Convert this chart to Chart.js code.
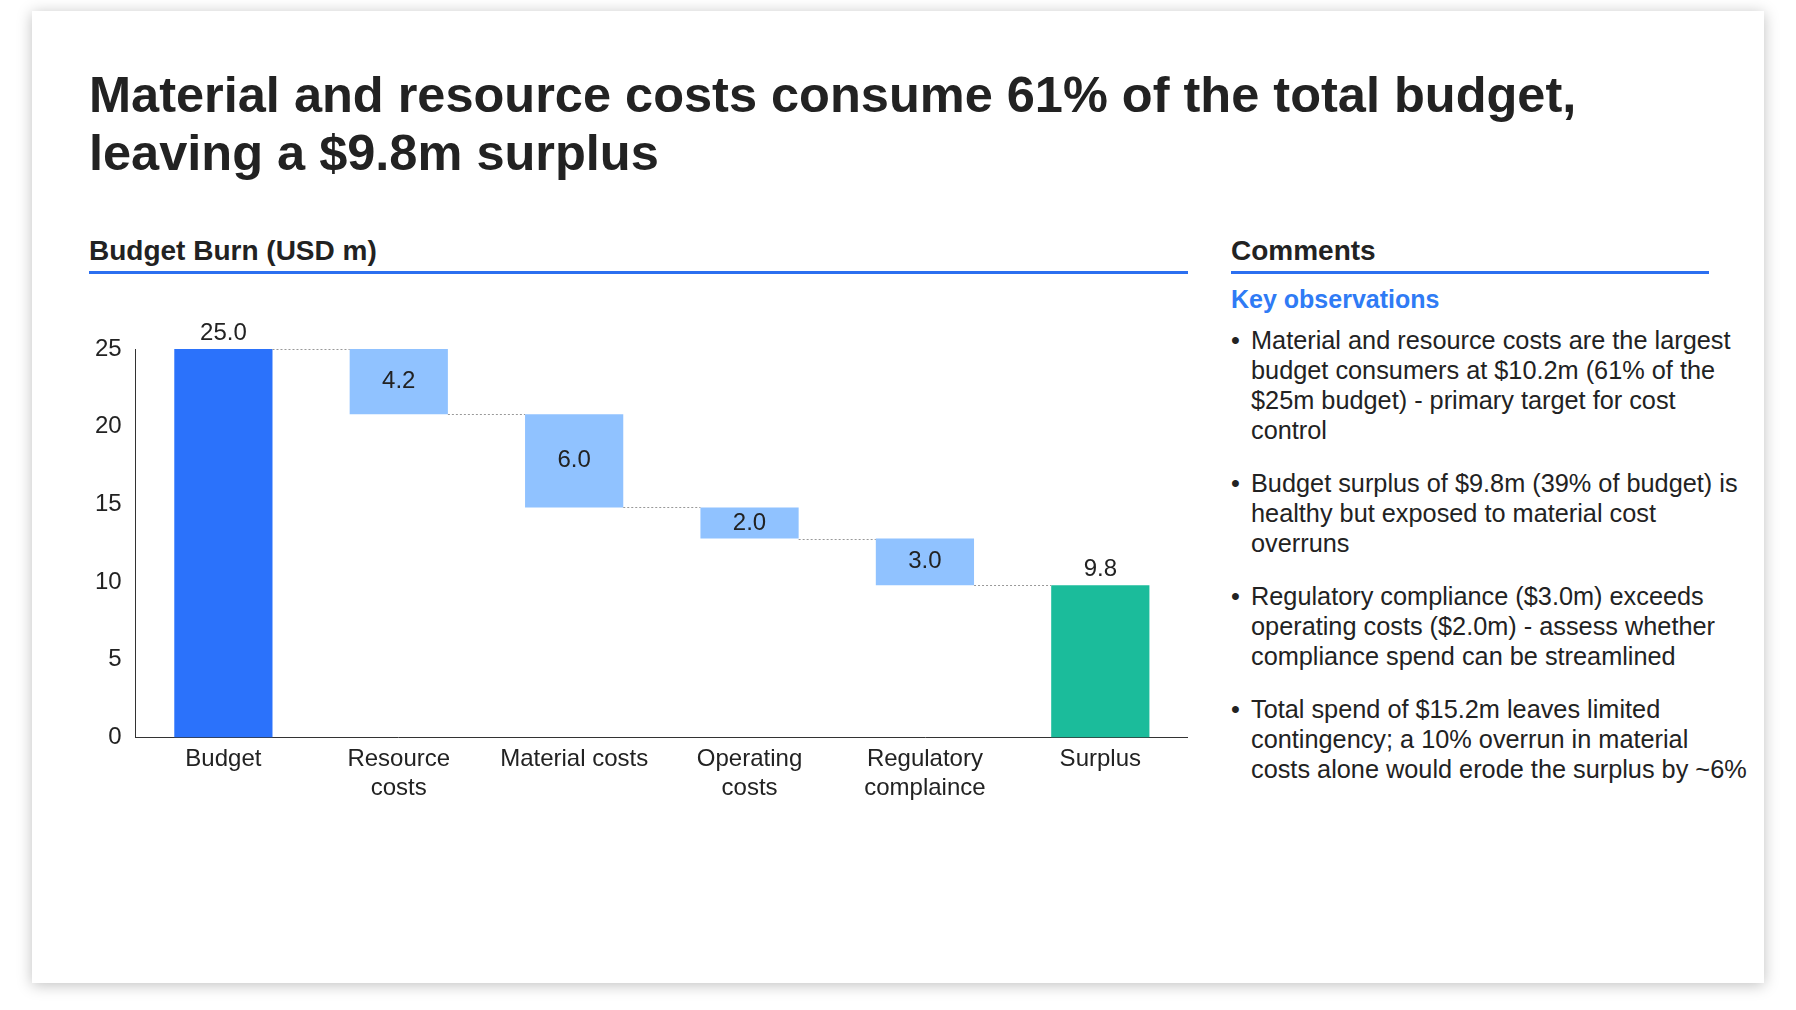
<!DOCTYPE html>
<html><head><meta charset="utf-8">
<script src="https://cdn.jsdelivr.net/npm/chart.js@4"></script>
<style>
body{margin:0;background:#fff;font-family:"Liberation Sans",Arial,sans-serif;color:#222;}
#card{position:absolute;left:32px;top:11px;width:1732px;height:972px;background:#fff;box-shadow:0 2px 14px rgba(0,0,0,0.25);}
h1{position:absolute;left:57px;top:55px;margin:0;font-size:50.5px;line-height:58px;font-weight:bold;color:#222;}
.hd{position:absolute;font-size:28px;font-weight:bold;color:#222;border-bottom:3px solid #2b6ff0;padding-bottom:4px;}
#obs{position:absolute;left:1199px;top:274px;font-size:25px;font-weight:bold;color:#2f7bf5;}
ul{position:absolute;left:1199px;top:314px;width:520px;margin:0;padding:0;list-style:none;font-size:25.3px;line-height:30px;color:#222;}
li{padding-left:20px;position:relative;margin-bottom:23px;}
li:before{content:"•";position:absolute;left:0;}
#wrap{position:absolute;left:57px;top:288px;width:1099px;height:512px;}
</style></head><body>
<div id="card">
<h1>Material and resource costs consume 61% of the total budget,<br>leaving a $9.8m surplus</h1>
<div class="hd" style="left:57px;top:224px;width:1099px;">Budget Burn (USD m)</div>
<div class="hd" style="left:1199px;top:224px;width:478px;">Comments</div>
<div id="obs">Key observations</div>
<ul>
<li>Material and resource costs are the largest budget consumers at $10.2m (61% of the $25m budget) - primary target for cost control</li>
<li>Budget surplus of $9.8m (39% of budget) is healthy but exposed to material cost overruns</li>
<li>Regulatory compliance ($3.0m) exceeds operating costs ($2.0m) - assess whether compliance spend can be streamlined</li>
<li>Total spend of $15.2m leaves limited contingency; a 10% overrun in material costs alone would erode the surplus by ~6%</li>
</ul>
<div id="wrap"><canvas id="c"></canvas></div>
</div>
<script>
const categories = [["Budget"], ["Resource", "costs"], ["Material costs"], ["Operating", "costs"], ["Regulatory", "complaince"], ["Surplus"]];
const lows = [0, 20.8, 14.8, 12.8, 9.8, 0];
const highs = [25, 25, 20.8, 14.8, 12.8, 9.8];
const values = [25.0, 4.2, 6.0, 2.0, 3.0, 9.8];
const isTotal = [true, false, false, false, false, true];
const colors = ["#2b72fb", "#90c2ff", "#90c2ff", "#90c2ff", "#90c2ff", "#1bbc9b"];

const labelPlugin = {
  id: "wf",
  afterDatasetsDraw(chart) {
    const ctx = chart.ctx, meta = chart.getDatasetMeta(0), y = chart.scales.y;
    ctx.save();
    // connectors
    ctx.strokeStyle = "#999"; ctx.lineWidth = 1; ctx.setLineDash([2, 2]);
    for (let i = 0; i < meta.data.length - 1; i++) {
      const a = meta.data[i], b = meta.data[i + 1];
      const level = isTotal[i] ? highs[i] : lows[i];
      const py = Math.round(y.getPixelForValue(level)) + 0.5;
      ctx.beginPath();
      ctx.moveTo(a.x + a.width / 2, py);
      ctx.lineTo(b.x - b.width / 2, py);
      ctx.stroke();
    }
    ctx.setLineDash([]);
    ctx.fillStyle = "#222"; ctx.font = "24px 'Liberation Sans', Arial"; ctx.textAlign = "center";
    meta.data.forEach((bar, i) => {
      const txt = values[i].toFixed(1);
      if (isTotal[i]) {
        ctx.textBaseline = "bottom";
        ctx.fillText(txt, bar.x, y.getPixelForValue(highs[i]) - 4);
      } else {
        ctx.textBaseline = "middle";
        ctx.fillText(txt, bar.x, (y.getPixelForValue(highs[i]) + y.getPixelForValue(lows[i])) / 2);
      }
    });
    ctx.restore();
  }
};

new Chart(document.getElementById("c"), {
  type: "bar",
  data: {
    labels: categories,
    datasets: [{
      data: lows.map((l, i) => [l, highs[i]]),
      backgroundColor: colors,
      borderWidth: 0,
      barPercentage: 0.56,
      categoryPercentage: 1
    }]
  },
  plugins: [labelPlugin],
  options: {
    responsive: true, maintainAspectRatio: false, animation: false,
    layout: { padding: { top: 50, right: 0 } },
    plugins: { legend: { display: false }, tooltip: { enabled: false } },
    scales: {
      x: {
        grid: { display: false, drawTicks: false },
        border: { color: "#333", width: 1 },
        ticks: { color: "#222", font: { size: 24, family: "Liberation Sans" }, padding: 8, maxRotation: 0, autoSkip: false }
      },
      y: {
        min: 0, max: 25,
        grid: { display: false, drawTicks: true, tickLength: 8, drawOnChartArea: false, color: "#333" },
        border: { color: "#333", width: 1 },
        ticks: { stepSize: 5, color: "#222", font: { size: 24, family: "Liberation Sans" }, padding: 6 }
      }
    }
  }
});
</script>
</body></html>
